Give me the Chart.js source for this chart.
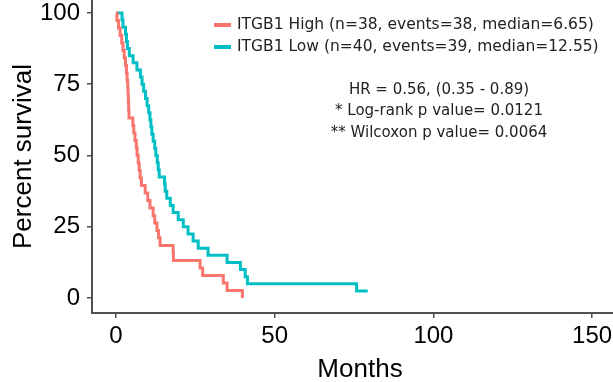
<!DOCTYPE html>
<html>
<head>
<meta charset="utf-8">
<script src="https://cdn.jsdelivr.net/npm/chart.js@4/dist/chart.umd.min.js"></script>
<style>
  html, body { margin: 0; padding: 0; background: #fff; overflow: hidden; }
  #wrap { width: 628px; height: 382px; }
</style>
</head>
<body>
<div id="wrap"><canvas id="kmChart" width="628" height="382"></canvas></div>
<script>
// Kaplan-Meier steps (months, percent surviving after the step)
const highLabel = "ITGB1 High (n=38, events=38, median=6.65)";
const highTimes = [0, 0.3, 0.8, 1.3, 1.8, 2.2, 2.6, 3.0, 3.3, 3.5, 3.7, 3.8, 3.9, 4.0, 4.1,
    5.3, 5.6, 6.0, 6.4, 6.65, 7.0, 7.3, 7.6, 8.0, 9.2, 10.0, 10.7, 11.7, 12.2, 12.9, 13.4,
    13.9, 18.0, 18.1, 26.5, 27.3, 33.8, 35.0, 39.8];
const highSurv = [100, 97.4, 94.7, 92.1, 89.5, 86.8, 84.2, 81.6, 78.9, 76.3, 73.7, 71.1, 68.4, 65.8, 63.2,
    60.5, 57.9, 55.3, 52.6, 50.0, 47.4, 44.7, 42.1, 39.5, 36.8, 34.2, 31.6, 28.9, 26.3, 23.7, 21.1,
    18.4, 15.8, 13.2, 10.5, 7.9, 5.3, 2.6, 0];

const lowLabel = "ITGB1 Low (n=40, events=39, median=12.55)";
const lowTimes = [0, 1.9, 2.2, 3.0, 3.3, 3.6, 4.2, 5.4, 6.6, 7.7, 8.2, 8.7, 9.3, 9.8, 10.3, 10.7,
    11.0, 11.3, 11.7, 12.2, 12.55, 13.0, 13.3, 13.6, 15.3, 15.5, 16.0, 17.1, 18.0, 19.6, 21.2,
    22.7, 24.3, 25.9, 27.5, 29.0, 35.0, 39.2, 40.7, 41.4, 75.8, 79.3];
const lowSurv = [100, 97.5, 95, 92.5, 90, 87.5, 85, 82.5, 80, 77.5, 75, 72.5, 70, 67.5, 65, 62.5,
    60, 57.5, 55, 52.5, 50, 47.5, 45, 42.5, 40, 37.5, 35, 32.5, 30, 27.5, 25,
    22.5, 20, 17.5, 17.5, 15, 12.5, 10, 7.5, 5, 2.5, 2.5];

const xTicks = [0, 50, 100, 150];
const yTicks = [0, 25, 50, 75, 100];
const statLines = [
    "HR = 0.56, (0.35 - 0.89)",
    "* Log-rank p value= 0.0121",
    "** Wilcoxon p value= 0.0064"
];

const highColor = "#F8766D";
const lowColor = "#00BFC4";
const axisColor = "#505050";

function toPoints(times, surv) {
    return times.map((t, i) => ({ x: t, y: surv[i] }));
}

// legend + stats text drawn inside the plot, like the original figure
const legendPlugin = {
    id: "kmLegend",
    afterDraw(chart) {
        const ctx = chart.ctx;
        ctx.save();
        ctx.font = "15.5px 'DejaVu Sans'";
        ctx.textBaseline = "middle";
        ctx.textAlign = "left";
        chart.data.datasets.forEach((ds, i) => {
            const y = 25 + i * 22;
            ctx.strokeStyle = ds.borderColor;
            ctx.lineWidth = 4;
            ctx.beginPath();
            ctx.moveTo(214, y);
            ctx.lineTo(231, y);
            ctx.stroke();
            ctx.fillStyle = "#222";
            ctx.fillText(ds.label, 237, y);
        });
        ctx.font = "15px 'DejaVu Sans'";
        ctx.textAlign = "center";
        statLines.forEach((line, i) => {
            ctx.fillText(line, 439, 90 + i * 21.5);
        });
        ctx.restore();
    }
};

const axisGrid = {
    display: true,
    drawOnChartArea: false,
    drawTicks: true,
    tickLength: 5,
    color: axisColor,
    lineWidth: 1.5
};

new Chart(document.getElementById("kmChart"), {
    type: "line",
    data: {
        datasets: [
            {
                label: highLabel,
                data: toPoints(highTimes, highSurv),
                borderColor: highColor,
                borderWidth: 3,
                stepped: "before",
                pointRadius: 0,
                fill: false
            },
            {
                label: lowLabel,
                data: toPoints(lowTimes, lowSurv),
                borderColor: lowColor,
                borderWidth: 3,
                stepped: "before",
                pointRadius: 0,
                fill: false
            }
        ]
    },
    options: {
        responsive: false,
        animation: false,
        devicePixelRatio: 1,
        layout: { padding: 0 },
        plugins: {
            legend: { display: false },
            tooltip: { enabled: false }
        },
        scales: {
            x: {
                type: "linear",
                min: -7.56,
                max: 161.3,
                afterBuildTicks: (scale) => { scale.ticks = xTicks.map(v => ({ value: v })); },
                afterFit: (scale) => {
                    scale.height = 69;
                    scale.paddingLeft = 0;
                    scale.paddingRight = 0;
                },
                grid: axisGrid,
                border: { display: true, color: axisColor, width: 2 },
                ticks: {
                    color: "#000",
                    padding: 4,
                    maxRotation: 0,
                    font: { family: "'Liberation Sans', Arial", size: 24 }
                },
                title: {
                    display: true,
                    text: "Months",
                    color: "#000",
                    padding: { top: 0, bottom: 0 },
                    font: { family: "'Liberation Sans', Arial", size: 26, lineHeight: 0.9 }
                }
            },
            y: {
                type: "linear",
                min: -5.26,
                max: 104.56,
                afterBuildTicks: (scale) => { scale.ticks = yTicks.map(v => ({ value: v })); },
                afterFit: (scale) => {
                    scale.width = 92;
                    scale.paddingTop = 0;
                    scale.paddingBottom = 0;
                },
                grid: axisGrid,
                border: { display: true, color: axisColor, width: 2 },
                ticks: {
                    color: "#000",
                    padding: 7,
                    font: { family: "'Liberation Sans', Arial", size: 24 }
                },
                title: {
                    display: true,
                    text: "Percent survival",
                    color: "#000",
                    padding: { top: 8, bottom: 0 },
                    font: { family: "'Liberation Sans', Arial", size: 26 }
                }
            }
        }
    },
    plugins: [legendPlugin]
});
</script>
</body>
</html>
